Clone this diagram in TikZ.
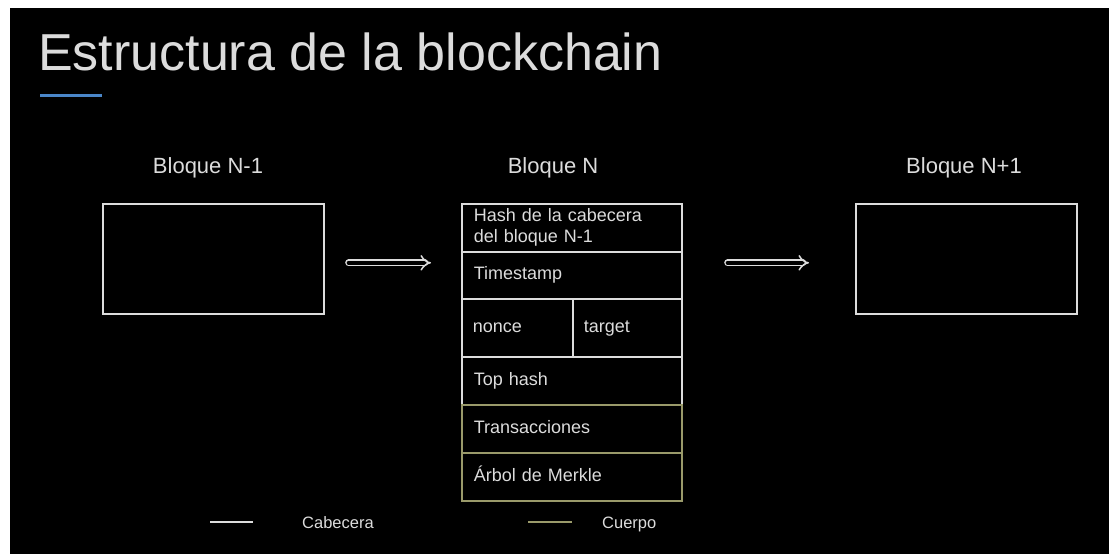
\documentclass[tikz,border=0pt]{standalone}
\usepackage{fontspec}
\setmainfont{Liberation Sans}
\usetikzlibrary{arrows.meta}
\definecolor{fg}{HTML}{DCDCDC}
\definecolor{bodycol}{HTML}{9A9A6A}
\definecolor{accent}{HTML}{4A86C8}
\begin{document}
\begin{tikzpicture}[x=1pt,y=-1pt,
  cell/.style={draw=fg, line width=1.6pt, inner sep=0pt, anchor=north west,
    minimum width=220pt, minimum height=48pt, text width=196pt, align=left,
    text=fg, font=\fontsize{18}{21}\selectfont},
  onecell/.style={cell, text height=13pt, text depth=4pt},
  bodycell/.style={onecell, draw=bodycol},
  sidebox/.style={draw=fg, line width=1.6pt, inner sep=0pt, anchor=north west,
    minimum width=221pt, minimum height=110pt},
  lbl/.style={text=fg, anchor=base, inner sep=0pt, font=\fontsize{22}{26}\selectfont},
  legtxt/.style={text=fg, anchor=base west, inner sep=0pt, font=\fontsize{16.5}{20}\selectfont},
  arr/.style={draw=fg, line width=1.5pt, double=black, double distance=3.8pt, -{Implies}, line cap=round},
  legline/.style={line width=1.8pt}
]
\useasboundingbox (0,0) rectangle (1109,554);
\fill[white] (0,0) rectangle (1109,554);
\fill[black] (10,8) rectangle (1109,554);

% title
\node[anchor=base west, inner sep=0pt, text=fg, font=\fontsize{52}{60}\selectfont] (title) at (38,70) {Estructura de la blockchain};
\draw[accent, line width=3pt] (40,95) coordinate (acc1) -- (102,95) coordinate (acc2);

% labels
\node[lbl] (l1) at (208,173) {Bloque N-1};
\node[lbl] (l2) at (553,173) {Bloque N};
\node[lbl] (l3) at (964,173) {Bloque N+1};

% side boxes
\node[sidebox] (b1) at (102,203) {};
\node[sidebox] (b3) at (855,203) {};

% central block
\node[cell] (hash) at (461,203) {Hash de la cabecera\\del bloque N-1};
\node[onecell, minimum height=47pt] (ts) at (461,251) {Timestamp};
\node[onecell, minimum width=111pt, minimum height=58pt, text width=89pt] (nonce) at (461,298) {nonce};
\node[onecell, minimum width=109pt, minimum height=58pt, text width=87pt] (target) at (572,298) {target};
\node[onecell] (top) at (461,356) {Top hash};
\node[bodycell] (tx) at (461,404) {Transacciones};
\node[bodycell] (merkle) at (461,452) {Árbol de Merkle};

% arrows
\draw[arr, shorten <=24pt, shorten >=30pt] ([yshift=-4pt]b1.east) -- ([yshift=-4pt]b1.east -| hash.west);
\draw[arr, shorten <=45pt, shorten >=46pt] ([yshift=-4pt]b3.west -| hash.east) -- ([yshift=-4pt]b3.west);

% legend
\draw[fg, legline] (210,522) coordinate (lg1a) -- (253,522) coordinate (lg1b);
\node[legtxt] (cab) at (302,528) {Cabecera};
\draw[bodycol, legline] (528,522) coordinate (lg2a) -- (572,522) coordinate (lg2b);
\node[legtxt] (cue) at (602,528) {Cuerpo};
\end{tikzpicture}
\end{document}
